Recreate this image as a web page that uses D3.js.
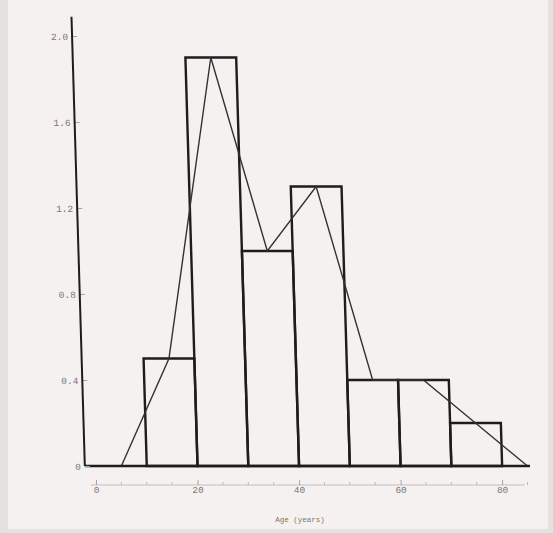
<!DOCTYPE html>
<html>
<head>
<meta charset="utf-8">
<script src="https://cdn.jsdelivr.net/npm/d3@7"></script>
<style>
  body { margin: 0; background: #ece7e7; }
  svg { display: block; }
  .tick text { font-family: "Liberation Mono", monospace; fill: #7a7676; }
</style>
</head>
<body>
<script>
// histogram bins (lower edge, upper edge) and heights
var binStart = [10, 20, 30, 40, 50, 60, 70];
var binEnd = [20, 30, 40, 50, 60, 70, 80];
var heights = [0.5, 1.9, 1.0, 1.3, 0.4, 0.4, 0.2];
// frequency polygon through bin midpoints
var polyX = [5, 15, 25, 35, 45, 55, 65, 75, 85];
var polyY = [0, 0.5, 1.9, 1.0, 1.3, 0.4, 0.4, 0.2, 0];
var yTicks = [0, 0.4, 0.8, 1.2, 1.6, 2.0];
var xTicks = [0, 20, 40, 60, 80];
var xMinor = [5, 10, 15, 25, 30, 35, 45, 50, 55, 65, 70, 75, 85];
var xTitle = "Age (years)";

var W = 553, H = 533;
var base = 466;

var svg = d3.select("body").append("svg")
  .attr("width", W)
  .attr("height", H);

// scanned paper look
svg.append("rect").attr("width", W).attr("height", H).attr("fill", "#e6e1e1");
svg.append("rect").attr("x", 8).attr("y", 0).attr("width", 540).attr("height", 529)
  .attr("fill", "#f5f1f0");

var x = d3.scaleLinear().domain([0, 85]).range([96, 527.5]);
var y = d3.scaleLinear().domain([0, 2.09]).range([base, base - 2.09 * 215]);

// the scan leans a little: shear everything about the baseline
var g = svg.append("g")
  .attr("transform", "translate(0," + base + ") skewX(1.7) translate(0," + (-base) + ")");

// bars
g.selectAll(".bar")
  .data(heights)
  .enter().append("rect")
  .attr("class", "bar")
  .attr("x", function(d, i) { return x(binStart[i]); })
  .attr("y", function(d) { return y(d); })
  .attr("width", function(d, i) { return x(binEnd[i]) - x(binStart[i]); })
  .attr("height", function(d) { return y(0) - y(d); })
  .attr("fill", "none")
  .attr("stroke", "#1e1c1c")
  .attr("stroke-width", 2.4);

// polygon
var line = d3.line()
  .x(function(d, i) { return x(polyX[i]); })
  .y(function(d) { return y(d); });

g.append("path")
  .datum(polyY)
  .attr("d", line)
  .attr("fill", "none")
  .attr("stroke", "#333131")
  .attr("stroke-width", 1.4);

// baseline
g.append("line")
  .attr("x1", x(-2.2)).attr("x2", x(85.5))
  .attr("y1", y(0)).attr("y2", y(0))
  .attr("stroke", "#1e1c1c")
  .attr("stroke-width", 2.4);

// y axis, ticks pointing inward
var yAxis = d3.axisLeft(y).tickValues(yTicks).tickSize(-5).tickPadding(4)
  .tickFormat(function(d) { return d === 0 ? "0" : d3.format(".1f")(d); });

var ya = g.append("g")
  .attr("transform", "translate(" + x(-2.2) + ",0)")
  .call(yAxis);
ya.select(".domain").remove();
ya.selectAll(".tick line").attr("stroke", "#a8a4a4");
ya.selectAll(".tick text").attr("font-size", 9.5);
ya.append("line")
  .attr("x1", 0).attr("x2", 0)
  .attr("y1", y(0)).attr("y2", y(2.09))
  .attr("stroke", "#1e1c1c")
  .attr("stroke-width", 2);

// lower x axis with ticks pointing up
var xAxis = d3.axisBottom(x).tickValues(xTicks).tickSize(-5).tickPadding(6).tickSizeOuter(0);
var xa = svg.append("g")
  .attr("transform", "translate(0,485)")
  .call(xAxis);
xa.select(".domain").attr("stroke", "#c2bebe").attr("d", "M" + x(-1) + ",0H" + x(84.5));
xa.selectAll(".tick line").attr("stroke", "#a8a4a4");
xa.selectAll(".tick text").attr("font-size", 9.5).attr("dy", "0.2em");

xa.selectAll(".minor")
  .data(xMinor)
  .enter().append("line")
  .attr("class", "minor")
  .attr("x1", function(d) { return x(d); })
  .attr("x2", function(d) { return x(d); })
  .attr("y1", 0).attr("y2", -3)
  .attr("stroke", "#bdb9b9");

svg.append("text")
  .attr("x", 300).attr("y", 522)
  .attr("text-anchor", "middle")
  .attr("font-family", "Liberation Mono, monospace")
  .attr("font-size", 7.5)
  .attr("fill", "#7a7676")
  .text(xTitle);
</script>
</body>
</html>
